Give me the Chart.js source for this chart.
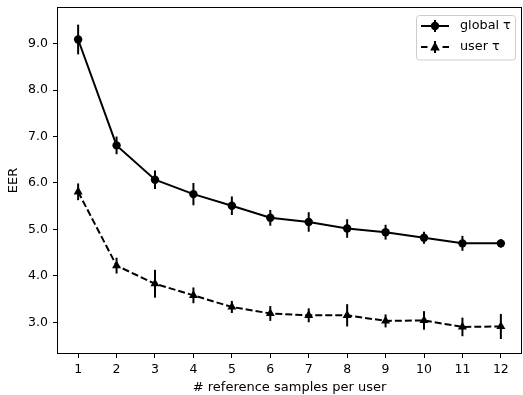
<!DOCTYPE html>
<html>
<head>
<meta charset="utf-8">
<script src="https://cdn.jsdelivr.net/npm/chart.js@4.4.1/dist/chart.umd.min.js"></script>
<style>
html,body{margin:0;padding:0;background:#fff;}
#wrap{width:523px;height:395px;position:relative;}
</style>
</head>
<body>
<div id="wrap"><canvas id="c" width="523" height="395"></canvas></div>
<script>
const samples = [1,2,3,4,5,6,7,8,9,10,11,12];
const globalTau = [9.09,6.81,6.07,5.76,5.51,5.25,5.16,5.02,4.94,4.82,4.70,4.70];
const globalErr = [0.32,0.19,0.20,0.24,0.20,0.17,0.21,0.20,0.16,0.13,0.16,0.09];
const userTau = [5.81,4.22,3.83,3.58,3.33,3.19,3.15,3.15,3.03,3.04,2.90,2.91];
const userErr = [0.18,0.17,0.30,0.17,0.13,0.16,0.15,0.24,0.14,0.20,0.20,0.27];
const yTicks = [3,4,5,6,7,8,9];
const xTicks = samples;
const labels = ['global \u03c4','user \u03c4'];

const FONT = 'DejaVu Sans';

const errorBars = {
  id:'errorBars',
  beforeDatasetsDraw(chart){
    const ctx = chart.ctx, xs = chart.scales.x, ys = chart.scales.y;
    ctx.save();
    ctx.strokeStyle = '#000'; ctx.lineWidth = 2;
    chart.data.datasets.forEach(ds=>{
      ds.data.forEach((p,i)=>{
        const e = ds.err[i];
        const px = xs.getPixelForValue(p.x);
        ctx.beginPath();
        ctx.moveTo(px, ys.getPixelForValue(p.y - e));
        ctx.lineTo(px, ys.getPixelForValue(p.y + e));
        ctx.stroke();
      });
    });
    ctx.restore();
  }
};

const frameAndLegend = {
  id:'frameAndLegend',
  afterDraw(chart){
    const ctx = chart.ctx, a = chart.chartArea;
    ctx.save();
    ctx.strokeStyle = '#000'; ctx.lineWidth = 1;
    ctx.strokeRect(Math.round(a.left)+0.5, Math.round(a.top)+0.5, Math.round(a.right-a.left)-1, Math.round(a.bottom-a.top)-1);
    // legend box
    const bx=416.5, by=15.5, bw=99, bh=44.5, r=3;
    ctx.beginPath();
    ctx.moveTo(bx+r,by); ctx.lineTo(bx+bw-r,by); ctx.arcTo(bx+bw,by,bx+bw,by+r,r);
    ctx.lineTo(bx+bw,by+bh-r); ctx.arcTo(bx+bw,by+bh,bx+bw-r,by+bh,r);
    ctx.lineTo(bx+r,by+bh); ctx.arcTo(bx,by+bh,bx,by+bh-r,r);
    ctx.lineTo(bx,by+r); ctx.arcTo(bx,by,bx+r,by,r); ctx.closePath();
    ctx.fillStyle='rgba(255,255,255,0.8)'; ctx.fill();
    ctx.strokeStyle='#cccccc'; ctx.stroke();
    const rows=[{y:26,style:'circle'},{y:47,style:'tri'}];
    rows.forEach((row,i)=>{
      ctx.strokeStyle='#000'; ctx.lineWidth=2;
      ctx.beginPath();
      if(i===0){ctx.moveTo(421,row.y);ctx.lineTo(449,row.y);}
      else {ctx.moveTo(421,row.y);ctx.lineTo(427.5,row.y);ctx.moveTo(442.5,row.y);ctx.lineTo(449,row.y);}
      ctx.stroke();
      ctx.beginPath(); ctx.moveTo(435,row.y-6); ctx.lineTo(435,row.y+6); ctx.stroke();
      ctx.fillStyle='#000';
      ctx.beginPath();
      if(row.style==='circle'){ctx.arc(435,row.y,4.2,0,Math.PI*2);}
      else {ctx.moveTo(435,row.y-5.5);ctx.lineTo(439.8,row.y+3.5);ctx.lineTo(430.2,row.y+3.5);ctx.closePath();}
      ctx.fill();
      ctx.font='12.8px "'+FONT+'"'; ctx.textBaseline='middle'; ctx.textAlign='left';
      ctx.fillText(labels[i],460,row.y);
    });
    ctx.restore();
  }
};

const mk = (vals)=>samples.map((s,i)=>({x:s,y:vals[i]}));
const noPad = (s)=>{s.paddingTop=0;s.paddingBottom=0;s.paddingLeft=0;s.paddingRight=0;};

new Chart(document.getElementById('c'),{
  type:'line',
  data:{datasets:[
    {label:labels[0],data:mk(globalTau),err:globalErr,borderColor:'#000',backgroundColor:'#000',borderWidth:2,
     pointStyle:'circle',pointRadius:4.2,pointBorderWidth:0,tension:0},
    {label:labels[1],data:mk(userTau),err:userErr,borderColor:'#000',backgroundColor:'#000',borderWidth:2,borderDash:[7,3],
     pointStyle:'triangle',pointRadius:5.2,pointBorderWidth:0,tension:0}
  ]},
  options:{
    responsive:false,animation:false,
    layout:{autoPadding:false,padding:{top:7,right:1,left:0,bottom:0}},
    plugins:{legend:{display:false},tooltip:{enabled:false}},
    scales:{
      x:{type:'linear',min:0.45,max:12.55,
        afterBuildTicks(s){s.ticks=xTicks.map(v=>({value:v}));},
        afterFit(s){s.height=41;noPad(s);},
        grid:{drawOnChartArea:false,drawTicks:true,tickLength:4,tickWidth:1,tickColor:'#000'},
        border:{display:false},
        ticks:{color:'#000',font:{family:FONT,size:12.5},padding:4,maxRotation:0,autoSkip:false},
        title:{display:true,text:'# reference samples per user',color:'#000',font:{family:FONT,size:13},padding:{top:0,bottom:0}}
      },
      y:{type:'linear',min:2.317,max:9.79,
        afterBuildTicks(s){s.ticks=yTicks.map(v=>({value:v}));},
        afterFit(s){s.width=57;noPad(s);},
        grid:{drawOnChartArea:false,drawTicks:true,tickLength:4,tickWidth:1,tickColor:'#000'},
        border:{display:false},
        ticks:{color:'#000',font:{family:FONT,size:12.5},padding:5,callback:v=>Number(v).toFixed(1)},
        title:{display:true,text:'EER',color:'#000',font:{family:FONT,size:13},padding:{top:6,bottom:0}}
      }
    }
  },
  plugins:[errorBars,frameAndLegend]
});
</script>
</body>
</html>
